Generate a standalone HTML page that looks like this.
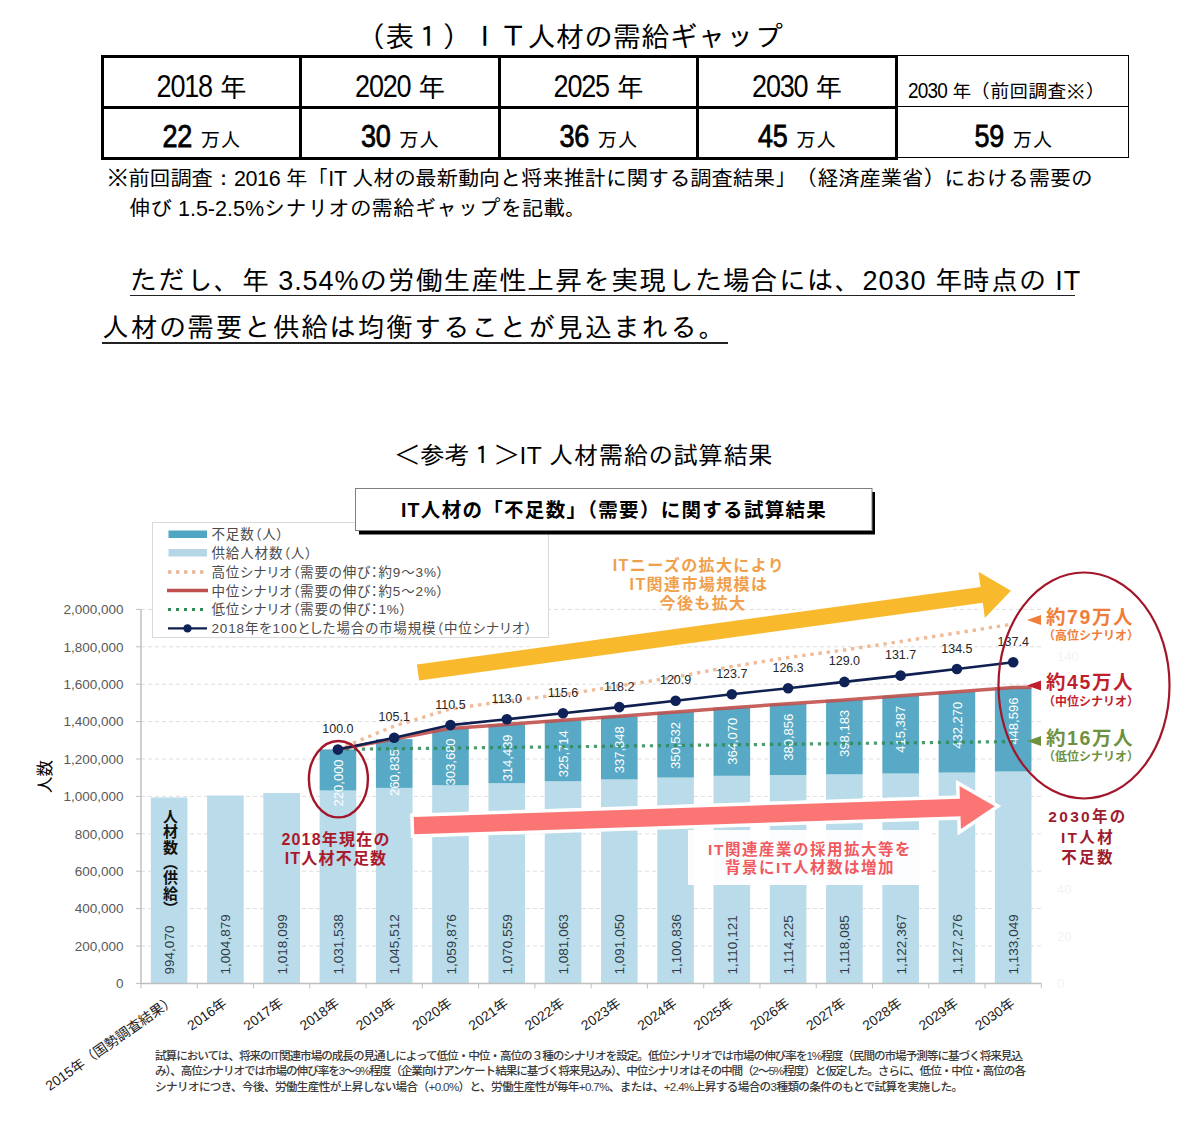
<!DOCTYPE html>
<html lang="ja">
<head>
<meta charset="utf-8">
<style>
html,body{margin:0;padding:0;background:#fff;}
body{width:1200px;height:1135px;position:relative;overflow:hidden;}
.g{font-family:"Liberation Sans","IPAGothic",sans-serif;color:#000;position:absolute;white-space:nowrap;line-height:1;}
.t{position:absolute;white-space:nowrap;line-height:1;}
#tbl{position:absolute;left:101px;top:55px;width:797px;height:105px;box-sizing:border-box;border:3px solid #000;}
.vl{position:absolute;top:55px;height:105px;width:3px;background:#000;}
.hl{position:absolute;background:#000;}
.cell{position:absolute;text-align:center;font-family:"Liberation Sans","IPAGothic",sans-serif;white-space:nowrap;line-height:1;}
.n{letter-spacing:-1.2px;display:inline-block;transform:scaleY(1.14);transform-origin:50% 85%;}
.b2{font-weight:normal;-webkit-text-stroke:0.7px #000;letter-spacing:-0.3px;margin-right:4px}
.ul{position:absolute;height:1.5px;background:#222;}
</style>
</head>
<body>
<!-- title -->
<div class="g" id="ttl" style="left:357px;top:23px;font-size:28.4px;">（表１）ＩＴ人材の需給ギャップ</div>

<!-- table -->
<div id="tbl"></div>
<div class="vl" style="left:299px"></div>
<div class="vl" style="left:498px"></div>
<div class="vl" style="left:696px"></div>
<div class="hl" style="left:101px;top:106px;width:797px;height:3px"></div>
<!-- col5 thin -->
<div class="hl" style="left:898px;top:55px;width:231px;height:1px"></div>
<div class="hl" style="left:898px;top:106px;width:231px;height:1px"></div>
<div class="hl" style="left:898px;top:157px;width:231px;height:1px"></div>
<div class="hl" style="left:1128px;top:55px;width:1px;height:103px"></div>

<div class="cell" style="left:104px;width:195px;top:74.5px;font-size:27px;"><span class="n">2018</span> 年</div>
<div class="cell" style="left:302px;width:196px;top:74.5px;font-size:27px;"><span class="n">2020</span> 年</div>
<div class="cell" style="left:501px;width:195px;top:74.5px;font-size:27px;"><span class="n">2025</span> 年</div>
<div class="cell" style="left:699px;width:196px;top:74.5px;font-size:27px;"><span class="n">2030</span> 年</div>
<div class="cell" style="left:908px;top:81.5px;font-size:19px;text-align:left"><span class="n" style="letter-spacing:-0.8px">2030</span> 年（前回調査※）</div>

<div class="cell" style="left:104px;width:195px;top:125px;"><b class="n b2" style="font-size:27px">22</b> <span style="font-size:20px">万人</span></div>
<div class="cell" style="left:302px;width:196px;top:125px;"><b class="n b2" style="font-size:27px">30</b> <span style="font-size:20px">万人</span></div>
<div class="cell" style="left:501px;width:195px;top:125px;"><b class="n b2" style="font-size:27px">36</b> <span style="font-size:20px">万人</span></div>
<div class="cell" style="left:699px;width:196px;top:125px;"><b class="n b2" style="font-size:27px">45</b> <span style="font-size:20px">万人</span></div>
<div class="cell" style="left:898px;width:231px;top:125px;"><b class="n b2" style="font-size:27px">59</b> <span style="font-size:20px">万人</span></div>

<!-- note -->
<div class="g" style="left:107px;top:169px;font-size:21.5px;letter-spacing:-0.35px">※前回調査：2016 年「IT 人材の最新動向と将来推計に関する調査結果」（経済産業省）における需要の</div>
<div class="g" style="left:129px;top:199px;font-size:21.5px;">伸び 1.5-2.5%シナリオの需給ギャップを記載。</div>

<!-- body text -->
<div class="g" style="left:130px;top:268px;font-size:27px;letter-spacing:0.95px">ただし、年 3.54%の労働生産性上昇を実現した場合には、2030 年時点の IT</div>
<div class="ul" style="left:130px;top:294.5px;width:945px"></div>
<div class="g" style="left:102px;top:315px;font-size:27px;letter-spacing:1.4px">人材の需要と供給は均衡することが見込まれる。</div>
<div class="ul" style="left:102px;top:342px;width:626px"></div>

<div class="g" style="left:395px;top:443.5px;font-size:24.5px;letter-spacing:0.4px">＜参考１＞IT 人材需給の試算結果</div>

<!--CHART-->
<svg id="chart" width="1200" height="1135" viewBox="0 0 1200 1135" style="position:absolute;left:0;top:0">
<style>.cj{font-family:"Liberation Sans","Noto Sans CJK JP",sans-serif;font-feature-settings:"palt";}.cf{font-family:"Liberation Sans","Noto Sans CJK JP",sans-serif;}</style>
<line x1="141.0" y1="946.0" x2="1041" y2="946.0" stroke="#dedede" stroke-width="1" stroke-dasharray="4,3"/>
<line x1="141.0" y1="908.6" x2="1041" y2="908.6" stroke="#dedede" stroke-width="1" stroke-dasharray="4,3"/>
<line x1="141.0" y1="871.2" x2="1041" y2="871.2" stroke="#dedede" stroke-width="1" stroke-dasharray="4,3"/>
<line x1="141.0" y1="833.8" x2="1041" y2="833.8" stroke="#dedede" stroke-width="1" stroke-dasharray="4,3"/>
<line x1="141.0" y1="796.4" x2="1041" y2="796.4" stroke="#dedede" stroke-width="1" stroke-dasharray="4,3"/>
<line x1="141.0" y1="759.0" x2="1041" y2="759.0" stroke="#dedede" stroke-width="1" stroke-dasharray="4,3"/>
<line x1="141.0" y1="721.6" x2="1041" y2="721.6" stroke="#dedede" stroke-width="1" stroke-dasharray="4,3"/>
<line x1="141.0" y1="684.2" x2="1041" y2="684.2" stroke="#dedede" stroke-width="1" stroke-dasharray="4,3"/>
<line x1="141.0" y1="646.8" x2="1041" y2="646.8" stroke="#dedede" stroke-width="1" stroke-dasharray="4,3"/>
<line x1="141.0" y1="609.4" x2="1041" y2="609.4" stroke="#dedede" stroke-width="1" stroke-dasharray="4,3"/>
<text class="cj" x="123.5" y="988.2" font-size="13.5" fill="#595959" text-anchor="end">0</text>
<line x1="136" y1="983.4" x2="141.0" y2="983.4" stroke="#bfbfbf" stroke-width="1"/>
<text class="cj" x="123.5" y="950.8" font-size="13.5" fill="#595959" text-anchor="end">200,000</text>
<line x1="136" y1="946.0" x2="141.0" y2="946.0" stroke="#bfbfbf" stroke-width="1"/>
<text class="cj" x="123.5" y="913.4" font-size="13.5" fill="#595959" text-anchor="end">400,000</text>
<line x1="136" y1="908.6" x2="141.0" y2="908.6" stroke="#bfbfbf" stroke-width="1"/>
<text class="cj" x="123.5" y="876.0" font-size="13.5" fill="#595959" text-anchor="end">600,000</text>
<line x1="136" y1="871.2" x2="141.0" y2="871.2" stroke="#bfbfbf" stroke-width="1"/>
<text class="cj" x="123.5" y="838.6" font-size="13.5" fill="#595959" text-anchor="end">800,000</text>
<line x1="136" y1="833.8" x2="141.0" y2="833.8" stroke="#bfbfbf" stroke-width="1"/>
<text class="cj" x="123.5" y="801.2" font-size="13.5" fill="#595959" text-anchor="end">1,000,000</text>
<line x1="136" y1="796.4" x2="141.0" y2="796.4" stroke="#bfbfbf" stroke-width="1"/>
<text class="cj" x="123.5" y="763.8" font-size="13.5" fill="#595959" text-anchor="end">1,200,000</text>
<line x1="136" y1="759.0" x2="141.0" y2="759.0" stroke="#bfbfbf" stroke-width="1"/>
<text class="cj" x="123.5" y="726.4" font-size="13.5" fill="#595959" text-anchor="end">1,400,000</text>
<line x1="136" y1="721.6" x2="141.0" y2="721.6" stroke="#bfbfbf" stroke-width="1"/>
<text class="cj" x="123.5" y="689.0" font-size="13.5" fill="#595959" text-anchor="end">1,600,000</text>
<line x1="136" y1="684.2" x2="141.0" y2="684.2" stroke="#bfbfbf" stroke-width="1"/>
<text class="cj" x="123.5" y="651.6" font-size="13.5" fill="#595959" text-anchor="end">1,800,000</text>
<line x1="136" y1="646.8" x2="141.0" y2="646.8" stroke="#bfbfbf" stroke-width="1"/>
<text class="cj" x="123.5" y="614.2" font-size="13.5" fill="#595959" text-anchor="end">2,000,000</text>
<line x1="136" y1="609.4" x2="141.0" y2="609.4" stroke="#bfbfbf" stroke-width="1"/>
<text class="cj" x="1057" y="987.9" font-size="13" fill="#f3f3f3">0</text>
<text class="cj" x="1057" y="941.1" font-size="13" fill="#f3f3f3">20</text>
<text class="cj" x="1057" y="894.4" font-size="13" fill="#f3f3f3">40</text>
<text class="cj" x="1057" y="660.6" font-size="13" fill="#f3f3f3">140</text>
<rect x="152.5" y="522.5" width="396" height="115" fill="#fff" stroke="#d9d9d9" stroke-width="1"/>
<rect x="150.83" y="797.51" width="36.6" height="185.89" fill="#b9dbea"/>
<rect x="207.10" y="795.49" width="36.6" height="187.91" fill="#b9dbea"/>
<rect x="263.38" y="793.02" width="36.6" height="190.38" fill="#b9dbea"/>
<rect x="319.65" y="790.50" width="36.6" height="192.90" fill="#b9dbea"/>
<rect x="319.65" y="749.36" width="36.6" height="41.14" fill="#58a9c5"/>
<rect x="375.92" y="787.89" width="36.6" height="195.51" fill="#b9dbea"/>
<rect x="375.92" y="739.11" width="36.6" height="48.78" fill="#58a9c5"/>
<rect x="432.19" y="785.20" width="36.6" height="198.20" fill="#b9dbea"/>
<rect x="432.19" y="728.42" width="36.6" height="56.79" fill="#58a9c5"/>
<rect x="488.45" y="783.21" width="36.6" height="200.19" fill="#b9dbea"/>
<rect x="488.45" y="724.41" width="36.6" height="58.80" fill="#58a9c5"/>
<rect x="544.73" y="781.24" width="36.6" height="202.16" fill="#b9dbea"/>
<rect x="544.73" y="720.33" width="36.6" height="60.91" fill="#58a9c5"/>
<rect x="601.00" y="779.37" width="36.6" height="204.03" fill="#b9dbea"/>
<rect x="601.00" y="716.20" width="36.6" height="63.18" fill="#58a9c5"/>
<rect x="657.27" y="777.54" width="36.6" height="205.86" fill="#b9dbea"/>
<rect x="657.27" y="711.99" width="36.6" height="65.55" fill="#58a9c5"/>
<rect x="713.54" y="775.81" width="36.6" height="207.59" fill="#b9dbea"/>
<rect x="713.54" y="707.73" width="36.6" height="68.08" fill="#58a9c5"/>
<rect x="769.81" y="775.04" width="36.6" height="208.36" fill="#b9dbea"/>
<rect x="769.81" y="703.82" width="36.6" height="71.22" fill="#58a9c5"/>
<rect x="826.08" y="774.32" width="36.6" height="209.08" fill="#b9dbea"/>
<rect x="826.08" y="699.86" width="36.6" height="74.46" fill="#58a9c5"/>
<rect x="882.35" y="773.52" width="36.6" height="209.88" fill="#b9dbea"/>
<rect x="882.35" y="695.84" width="36.6" height="77.68" fill="#58a9c5"/>
<rect x="938.62" y="772.60" width="36.6" height="210.80" fill="#b9dbea"/>
<rect x="938.62" y="691.76" width="36.6" height="80.83" fill="#58a9c5"/>
<rect x="994.89" y="771.52" width="36.6" height="211.88" fill="#b9dbea"/>
<rect x="994.89" y="687.63" width="36.6" height="83.89" fill="#58a9c5"/>
<line x1="141.0" y1="609" x2="141.0" y2="983.9" stroke="#bfbfbf" stroke-width="1.5"/>
<line x1="141.0" y1="983.4" x2="1041" y2="983.4" stroke="#bfbfbf" stroke-width="1.5"/>
<line x1="141.00" y1="983.4" x2="141.00" y2="988.4" stroke="#bfbfbf" stroke-width="1"/>
<line x1="197.27" y1="983.4" x2="197.27" y2="988.4" stroke="#bfbfbf" stroke-width="1"/>
<line x1="253.54" y1="983.4" x2="253.54" y2="988.4" stroke="#bfbfbf" stroke-width="1"/>
<line x1="309.81" y1="983.4" x2="309.81" y2="988.4" stroke="#bfbfbf" stroke-width="1"/>
<line x1="366.08" y1="983.4" x2="366.08" y2="988.4" stroke="#bfbfbf" stroke-width="1"/>
<line x1="422.35" y1="983.4" x2="422.35" y2="988.4" stroke="#bfbfbf" stroke-width="1"/>
<line x1="478.62" y1="983.4" x2="478.62" y2="988.4" stroke="#bfbfbf" stroke-width="1"/>
<line x1="534.89" y1="983.4" x2="534.89" y2="988.4" stroke="#bfbfbf" stroke-width="1"/>
<line x1="591.16" y1="983.4" x2="591.16" y2="988.4" stroke="#bfbfbf" stroke-width="1"/>
<line x1="647.43" y1="983.4" x2="647.43" y2="988.4" stroke="#bfbfbf" stroke-width="1"/>
<line x1="703.70" y1="983.4" x2="703.70" y2="988.4" stroke="#bfbfbf" stroke-width="1"/>
<line x1="759.97" y1="983.4" x2="759.97" y2="988.4" stroke="#bfbfbf" stroke-width="1"/>
<line x1="816.24" y1="983.4" x2="816.24" y2="988.4" stroke="#bfbfbf" stroke-width="1"/>
<line x1="872.51" y1="983.4" x2="872.51" y2="988.4" stroke="#bfbfbf" stroke-width="1"/>
<line x1="928.78" y1="983.4" x2="928.78" y2="988.4" stroke="#bfbfbf" stroke-width="1"/>
<line x1="985.05" y1="983.4" x2="985.05" y2="988.4" stroke="#bfbfbf" stroke-width="1"/>
<line x1="1041.32" y1="983.4" x2="1041.32" y2="988.4" stroke="#bfbfbf" stroke-width="1"/>
<text class="cj" transform="translate(174.1,974.4) rotate(-90)" font-size="13.5" fill="#2f3b45">994,070</text>
<text class="cj" transform="translate(230.4,974.4) rotate(-90)" font-size="13.5" fill="#2f3b45">1,004,879</text>
<text class="cj" transform="translate(286.7,974.4) rotate(-90)" font-size="13.5" fill="#2f3b45">1,018,099</text>
<text class="cj" transform="translate(342.9,974.4) rotate(-90)" font-size="13.5" fill="#2f3b45">1,031,538</text>
<text class="cj" transform="translate(399.2,974.4) rotate(-90)" font-size="13.5" fill="#2f3b45">1,045,512</text>
<text class="cj" transform="translate(455.5,974.4) rotate(-90)" font-size="13.5" fill="#2f3b45">1,059,876</text>
<text class="cj" transform="translate(511.8,974.4) rotate(-90)" font-size="13.5" fill="#2f3b45">1,070,559</text>
<text class="cj" transform="translate(568.0,974.4) rotate(-90)" font-size="13.5" fill="#2f3b45">1,081,063</text>
<text class="cj" transform="translate(624.3,974.4) rotate(-90)" font-size="13.5" fill="#2f3b45">1,091,050</text>
<text class="cj" transform="translate(680.6,974.4) rotate(-90)" font-size="13.5" fill="#2f3b45">1,100,836</text>
<text class="cj" transform="translate(736.8,974.4) rotate(-90)" font-size="13.5" fill="#2f3b45">1,110,121</text>
<text class="cj" transform="translate(793.1,974.4) rotate(-90)" font-size="13.5" fill="#2f3b45">1,114,225</text>
<text class="cj" transform="translate(849.4,974.4) rotate(-90)" font-size="13.5" fill="#2f3b45">1,118,085</text>
<text class="cj" transform="translate(905.6,974.4) rotate(-90)" font-size="13.5" fill="#2f3b45">1,122,367</text>
<text class="cj" transform="translate(961.9,974.4) rotate(-90)" font-size="13.5" fill="#2f3b45">1,127,276</text>
<text class="cj" transform="translate(1018.2,974.4) rotate(-90)" font-size="13.5" fill="#2f3b45">1,133,049</text>
<text class="cj" transform="translate(342.7,759.4) rotate(-90)" font-size="13" fill="#fff" text-anchor="end">220,000</text>
<text class="cj" transform="translate(399.0,749.1) rotate(-90)" font-size="13" fill="#fff" text-anchor="end">260,835</text>
<text class="cj" transform="translate(455.3,738.4) rotate(-90)" font-size="13" fill="#fff" text-anchor="end">303,680</text>
<text class="cj" transform="translate(511.6,734.4) rotate(-90)" font-size="13" fill="#fff" text-anchor="end">314,439</text>
<text class="cj" transform="translate(567.8,730.3) rotate(-90)" font-size="13" fill="#fff" text-anchor="end">325,714</text>
<text class="cj" transform="translate(624.1,726.2) rotate(-90)" font-size="13" fill="#fff" text-anchor="end">337,848</text>
<text class="cj" transform="translate(680.4,722.0) rotate(-90)" font-size="13" fill="#fff" text-anchor="end">350,532</text>
<text class="cj" transform="translate(736.6,717.7) rotate(-90)" font-size="13" fill="#fff" text-anchor="end">364,070</text>
<text class="cj" transform="translate(792.9,713.8) rotate(-90)" font-size="13" fill="#fff" text-anchor="end">380,856</text>
<text class="cj" transform="translate(849.2,709.9) rotate(-90)" font-size="13" fill="#fff" text-anchor="end">398,183</text>
<text class="cj" transform="translate(905.4,705.8) rotate(-90)" font-size="13" fill="#fff" text-anchor="end">415,387</text>
<text class="cj" transform="translate(961.7,701.8) rotate(-90)" font-size="13" fill="#fff" text-anchor="end">432,270</text>
<text class="cj" transform="translate(1018.0,697.6) rotate(-90)" font-size="13" fill="#fff" text-anchor="end">448,596</text>
<polyline points="337.9,749.4 394.2,726.0 450.5,709.0 506.8,701.0 563.0,694.5 619.3,686.0 675.6,677.0 731.8,666.5 788.1,657.5 844.4,650.0 900.6,641.5 956.9,633.0 1013.2,624.0" fill="none" stroke="#f0bb98" stroke-width="3.4" stroke-dasharray="3.4,4.8"/>
<polyline points="337.9,749.4 394.2,748.7 450.5,748.1 506.8,747.4 563.0,746.8 619.3,746.1 675.6,745.5 731.8,744.8 788.1,744.2 844.4,743.5 900.6,742.9 956.9,742.2 1013.2,741.6" fill="none" stroke="#2e8b57" stroke-width="3.2" stroke-dasharray="3.2,4.8" stroke-opacity="0.85"/>
<polyline points="337.9,749.4 394.2,739.1 450.5,728.4 506.8,724.4 563.0,720.3 619.3,716.2 675.6,712.0 731.8,707.7 788.1,703.8 844.4,699.9 900.6,695.8 956.9,691.8 1013.2,687.6 1031.5,687.2" fill="none" stroke="#c0504d" stroke-width="3.5" stroke-opacity="0.9"/>
<polyline points="337.9,749.6 394.2,737.7 450.5,725.1 506.8,719.3 563.0,713.2 619.3,707.1 675.6,700.8 731.8,694.3 788.1,688.2 844.4,681.9 900.6,675.6 956.9,669.0 1013.2,662.2" fill="none" stroke="#0f1f4f" stroke-width="2.6"/>
<circle cx="337.9" cy="749.6" r="5.3" fill="#0f2257"/>
<circle cx="394.2" cy="737.7" r="5.3" fill="#0f2257"/>
<circle cx="450.5" cy="725.1" r="5.3" fill="#0f2257"/>
<circle cx="506.8" cy="719.3" r="5.3" fill="#0f2257"/>
<circle cx="563.0" cy="713.2" r="5.3" fill="#0f2257"/>
<circle cx="619.3" cy="707.1" r="5.3" fill="#0f2257"/>
<circle cx="675.6" cy="700.8" r="5.3" fill="#0f2257"/>
<circle cx="731.8" cy="694.3" r="5.3" fill="#0f2257"/>
<circle cx="788.1" cy="688.2" r="5.3" fill="#0f2257"/>
<circle cx="844.4" cy="681.9" r="5.3" fill="#0f2257"/>
<circle cx="900.6" cy="675.6" r="5.3" fill="#0f2257"/>
<circle cx="956.9" cy="669.0" r="5.3" fill="#0f2257"/>
<circle cx="1013.2" cy="662.2" r="5.3" fill="#0f2257"/>
<text class="cj" x="337.9" y="733.1" font-size="12.5" fill="#262626" text-anchor="middle">100.0</text>
<text class="cj" x="394.2" y="721.2" font-size="12.5" fill="#262626" text-anchor="middle">105.1</text>
<text class="cj" x="450.5" y="708.6" font-size="12.5" fill="#262626" text-anchor="middle">110.5</text>
<text class="cj" x="506.8" y="702.8" font-size="12.5" fill="#262626" text-anchor="middle">113.0</text>
<text class="cj" x="563.0" y="696.7" font-size="12.5" fill="#262626" text-anchor="middle">115.6</text>
<text class="cj" x="619.3" y="690.6" font-size="12.5" fill="#262626" text-anchor="middle">118.2</text>
<text class="cj" x="675.6" y="684.3" font-size="12.5" fill="#262626" text-anchor="middle">120.9</text>
<text class="cj" x="731.8" y="677.8" font-size="12.5" fill="#262626" text-anchor="middle">123.7</text>
<text class="cj" x="788.1" y="671.7" font-size="12.5" fill="#262626" text-anchor="middle">126.3</text>
<text class="cj" x="844.4" y="665.4" font-size="12.5" fill="#262626" text-anchor="middle">129.0</text>
<text class="cj" x="900.6" y="659.1" font-size="12.5" fill="#262626" text-anchor="middle">131.7</text>
<text class="cj" x="956.9" y="652.5" font-size="12.5" fill="#262626" text-anchor="middle">134.5</text>
<text class="cj" x="1013.2" y="645.7" font-size="12.5" fill="#262626" text-anchor="middle">137.4</text>
<text class="cf" transform="translate(176.6,1002.4) rotate(-35)" font-size="13.8" fill="#1a1a1a" text-anchor="end">2015年（国勢調査結果）</text>
<text class="cf" transform="translate(227.9,1005.4) rotate(-35)" font-size="13.8" fill="#1a1a1a" text-anchor="end">2016年</text>
<text class="cf" transform="translate(284.2,1005.4) rotate(-35)" font-size="13.8" fill="#1a1a1a" text-anchor="end">2017年</text>
<text class="cf" transform="translate(340.4,1005.4) rotate(-35)" font-size="13.8" fill="#1a1a1a" text-anchor="end">2018年</text>
<text class="cf" transform="translate(396.7,1005.4) rotate(-35)" font-size="13.8" fill="#1a1a1a" text-anchor="end">2019年</text>
<text class="cf" transform="translate(453.0,1005.4) rotate(-35)" font-size="13.8" fill="#1a1a1a" text-anchor="end">2020年</text>
<text class="cf" transform="translate(509.3,1005.4) rotate(-35)" font-size="13.8" fill="#1a1a1a" text-anchor="end">2021年</text>
<text class="cf" transform="translate(565.5,1005.4) rotate(-35)" font-size="13.8" fill="#1a1a1a" text-anchor="end">2022年</text>
<text class="cf" transform="translate(621.8,1005.4) rotate(-35)" font-size="13.8" fill="#1a1a1a" text-anchor="end">2023年</text>
<text class="cf" transform="translate(678.1,1005.4) rotate(-35)" font-size="13.8" fill="#1a1a1a" text-anchor="end">2024年</text>
<text class="cf" transform="translate(734.3,1005.4) rotate(-35)" font-size="13.8" fill="#1a1a1a" text-anchor="end">2025年</text>
<text class="cf" transform="translate(790.6,1005.4) rotate(-35)" font-size="13.8" fill="#1a1a1a" text-anchor="end">2026年</text>
<text class="cf" transform="translate(846.9,1005.4) rotate(-35)" font-size="13.8" fill="#1a1a1a" text-anchor="end">2027年</text>
<text class="cf" transform="translate(903.1,1005.4) rotate(-35)" font-size="13.8" fill="#1a1a1a" text-anchor="end">2028年</text>
<text class="cf" transform="translate(959.4,1005.4) rotate(-35)" font-size="13.8" fill="#1a1a1a" text-anchor="end">2029年</text>
<text class="cf" transform="translate(1015.7,1005.4) rotate(-35)" font-size="13.8" fill="#1a1a1a" text-anchor="end">2030年</text>
<text class="cf" transform="translate(50.5,776.5) rotate(-90)" font-size="16.5" fill="#000" text-anchor="middle">人数</text>
<rect x="168.5" y="530.5" width="38.5" height="7.5" fill="#4fa6c2"/>
<rect x="168.5" y="549" width="38.5" height="7.5" fill="#b4d6e6"/>
<line x1="168" y1="572" x2="208" y2="572" stroke="#e9b899" stroke-width="3.5" stroke-dasharray="3.5,4.5"/>
<line x1="167" y1="590.6" x2="208" y2="590.6" stroke="#c0504d" stroke-width="3.5"/>
<line x1="168" y1="609.5" x2="208" y2="609.5" stroke="#2e8b57" stroke-width="3" stroke-dasharray="3,5"/>
<line x1="168" y1="628.4" x2="207" y2="628.4" stroke="#0f1f4f" stroke-width="2.4"/>
<circle cx="187.5" cy="628.4" r="4.2" fill="#0f2257"/>
<text class="cj" x="211.5" y="539.0" font-size="13.5" fill="#4a4a4a" letter-spacing="0.85">不足数（人）</text>
<text class="cj" x="211.5" y="557.9" font-size="13.5" fill="#4a4a4a" letter-spacing="0.85">供給人材数（人）</text>
<text class="cj" x="211.5" y="576.7" font-size="13.5" fill="#4a4a4a" letter-spacing="0.85">高位シナリオ（需要の伸び：約9～3%）</text>
<text class="cj" x="211.5" y="595.5" font-size="13.5" fill="#4a4a4a" letter-spacing="0.85">中位シナリオ（需要の伸び：約5～2%）</text>
<text class="cj" x="211.5" y="614.4" font-size="13.5" fill="#4a4a4a" letter-spacing="0.85">低位シナリオ（需要の伸び：1%）</text>
<text class="cj" x="211.5" y="633.2" font-size="13.5" fill="#4a4a4a" letter-spacing="0.85">2018年を100とした場合の市場規模（中位シナリオ）</text>
<rect x="359" y="492" width="516" height="42.5" fill="#000"/>
<rect x="355.5" y="488.5" width="516.5" height="42" fill="#fff" stroke="#7f7f7f" stroke-width="1"/>
<text class="cf" x="614" y="517" font-size="19.5" font-weight="bold" fill="#000" text-anchor="middle" letter-spacing="1.3">IT人材の「不足数」（需要）に関する試算結果</text>
<polygon transform="translate(418,672.5) rotate(-7.84)" points="0.0,-8.0 569.0,-8.0 569.0,-23.3 598.5,0.0 569.0,23.3 569.0,8.0 0.0,8.0" fill="#fff" stroke="#fff" stroke-width="4" stroke-linejoin="miter"/>
<polygon transform="translate(418,672.5) rotate(-7.84)" points="0.0,-8.0 569.0,-8.0 569.0,-23.3 598.5,0.0 569.0,23.3 569.0,8.0 0.0,8.0" fill="#f8b92c"/>
<text class="cf" x="699" y="570.5" font-size="16" font-weight="bold" fill="#f0a04b" text-anchor="middle" letter-spacing="1.4">ITニーズの拡大により</text>
<text class="cf" x="699" y="589.5" font-size="16" font-weight="bold" fill="#f0a04b" text-anchor="middle" letter-spacing="1.4">IT関連市場規模は</text>
<text class="cf" x="703" y="608.5" font-size="16" font-weight="bold" fill="#f0a04b" text-anchor="middle" letter-spacing="1.4">今後も拡大</text>
<polygon transform="translate(414,825.6) rotate(-1.9)" points="0.0,-8.7 546.5,-8.7 546.5,-21.5 581.0,0.0 546.5,21.5 546.5,8.7 0.0,8.7" fill="#fff" stroke="#fff" stroke-width="7" stroke-linejoin="miter"/>
<polygon transform="translate(414,825.6) rotate(-1.9)" points="0.0,-8.7 546.5,-8.7 546.5,-21.5 581.0,0.0 546.5,21.5 546.5,8.7 0.0,8.7" fill="#fb7575"/>
<rect x="688" y="830" width="241" height="55" fill="#fff" fill-opacity="0.95"/>
<text class="cf" x="810" y="854.5" font-size="15.5" font-weight="bold" fill="#f0595e" text-anchor="middle" letter-spacing="1.5">IT関連産業の採用拡大等を</text>
<text class="cf" x="810" y="873.3" font-size="15.5" font-weight="bold" fill="#f0595e" text-anchor="middle" letter-spacing="1.5">背景にIT人材数は増加</text>
<ellipse cx="338.4" cy="779.2" rx="29.5" ry="38.2" fill="none" stroke="#a3162a" stroke-width="2.4"/>
<text class="cf" x="336" y="844.5" font-size="16" font-weight="bold" fill="#ab192c" text-anchor="middle" letter-spacing="1.2">2018年現在の</text>
<text class="cf" x="336" y="864.0" font-size="16" font-weight="bold" fill="#ab192c" text-anchor="middle" letter-spacing="1.2">IT人材不足数</text>
<ellipse cx="1084" cy="685.5" rx="85.5" ry="113" fill="none" stroke="#a3162a" stroke-width="2.2"/>
<polygon points="1027,620.0 1041,615.0 1041,625.0" fill="#f07e3a"/>
<text class="cf" x="1090" y="623.5" font-size="19.5" font-weight="bold" fill="#f07e3a" text-anchor="middle" letter-spacing="1.6">約79万人</text>
<text class="cf" x="1091" y="640.0" font-size="12" font-weight="bold" fill="#f07e3a" text-anchor="middle">（高位シナリオ）</text>
<polygon points="1027,685.5 1041,680.5 1041,690.5" fill="#c01f2e"/>
<text class="cf" x="1090" y="689.0" font-size="19.5" font-weight="bold" fill="#c01f2e" text-anchor="middle" letter-spacing="1.6">約45万人</text>
<text class="cf" x="1091" y="705.5" font-size="12" font-weight="bold" fill="#c01f2e" text-anchor="middle">（中位シナリオ）</text>
<polygon points="1027,741.0 1041,736.0 1041,746.0" fill="#6e9140"/>
<text class="cf" x="1090" y="744.5" font-size="19.5" font-weight="bold" fill="#6e9140" text-anchor="middle" letter-spacing="1.6">約16万人</text>
<text class="cf" x="1091" y="761.0" font-size="12" font-weight="bold" fill="#6e9140" text-anchor="middle">（低位シナリオ）</text>
<text class="cf" x="1088" y="822.0" font-size="15.5" font-weight="bold" fill="#9e1c2e" text-anchor="middle" letter-spacing="2.3">2030年の</text>
<text class="cf" x="1088" y="842.5" font-size="15.5" font-weight="bold" fill="#9e1c2e" text-anchor="middle" letter-spacing="2.3">IT人材</text>
<text class="cf" x="1088" y="863.0" font-size="15.5" font-weight="bold" fill="#9e1c2e" text-anchor="middle" letter-spacing="2.3">不足数</text>
<text class="cf" x="155" y="1060.0" font-size="11.6" font-weight="500" fill="#3a3a3a" textLength="868" lengthAdjust="spacing">試算においては、将来のIT関連市場の成長の見通しによって低位・中位・高位の３種のシナリオを設定。低位シナリオでは市場の伸び率を1%程度（民間の市場予測等に基づく将来見込</text>
<text class="cf" x="155" y="1075.3" font-size="11.6" font-weight="500" fill="#3a3a3a" textLength="871" lengthAdjust="spacing">み）、高位シナリオでは市場の伸び率を3～9%程度（企業向けアンケート結果に基づく将来見込み）、中位シナリオはその中間（2～5%程度）と仮定した。さらに、低位・中位・高位の各</text>
<text class="cf" x="155" y="1090.6" font-size="11.6" font-weight="500" fill="#3a3a3a" textLength="808" lengthAdjust="spacing">シナリオにつき、今後、労働生産性が上昇しない場合（+0.0%）と、労働生産性が毎年+0.7%、または、+2.4%上昇する場合の3種類の条件のもとで試算を実施した。</text>
</svg>
<div style="position:absolute;left:162px;top:808.5px;writing-mode:vertical-rl;font-family:'Liberation Sans','Noto Sans CJK JP',sans-serif;font-size:15px;font-weight:bold;line-height:15px;color:#111;letter-spacing:0.3px">人材数（供給）</div>
<!--/CHART-->
</body>
</html>
